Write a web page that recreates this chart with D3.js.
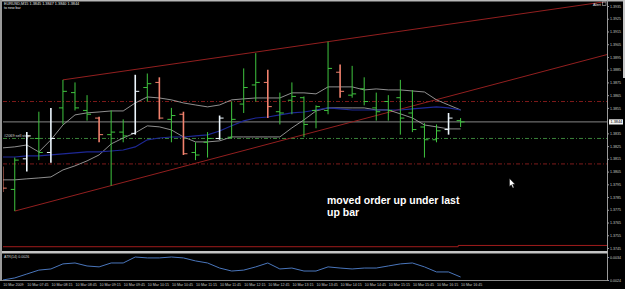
<!DOCTYPE html>
<html>
<head>
<meta charset="utf-8">
<script src="https://cdn.jsdelivr.net/npm/d3@7"></script>
<style>
  body { margin: 0; background: #000; overflow: hidden; }
  svg { display: block; font-family: 'Liberation Sans', Arial, sans-serif; }
</style>
</head>
<body>
<script>
const width = 625;
const height = 289;

// EURUSD M15 bars, 10 Mar 2009
const open  = [1.3806,1.3791,1.3815,1.3831,1.3820,1.3855,1.3867,1.3853,1.3847,1.3834,1.3836,1.3835,1.3871,1.3875,1.3846,1.3850,1.3820,1.3828,1.3831,1.3832,1.3858,1.3873,1.3875,1.3852,1.3861,1.3863,1.3853,1.3853,1.3883,1.3865,1.3870,1.3855,1.3860,1.3863,1.3851,1.3840,1.3830,1.3838,1.3845];
const high  = [1.3809,1.3816,1.3836,1.3852,1.3855,1.3877,1.3875,1.3865,1.3848,1.3853,1.3846,1.3881,1.3882,1.3879,1.3855,1.3852,1.3828,1.3836,1.3849,1.3860,1.3886,1.3898,1.3885,1.3867,1.3875,1.3864,1.3857,1.3907,1.3889,1.3888,1.3879,1.3867,1.3865,1.3877,1.3869,1.3843,1.3842,1.3851,1.3847];
const low   = [1.3789,1.3774,1.3805,1.3814,1.3812,1.3842,1.3853,1.3845,1.3828,1.3794,1.3828,1.3834,1.3860,1.3846,1.3828,1.3818,1.3814,1.3816,1.3830,1.3831,1.3851,1.3860,1.3847,1.3842,1.3850,1.3832,1.3839,1.3850,1.3863,1.3863,1.3857,1.3845,1.3845,1.3834,1.3836,1.3816,1.3828,1.3834,1.3840];
const close = [1.3792,1.3814,1.3833,1.3820,1.3831,1.3868,1.3855,1.3850,1.3834,1.3836,1.3833,1.3868,1.3874,1.3847,1.3849,1.3819,1.3818,1.3831,1.3847,1.3846,1.3871,1.3875,1.3856,1.3851,1.3864,1.3842,1.3856,1.3886,1.3868,1.3866,1.3860,1.3852,1.3853,1.3847,1.3838,1.3830,1.3837,1.3847,1.3844];
const kind  = ['dn','up','wh','up','wh','up','up','up','dn','up','up','wh','up','dn','up','dn','up','up','wh','up','up','up','dn','up','up','up','up','up','dn','up','up','up','up','up','up','up','up','wh','up'];

// indicator lines
const upperBand = [1.38236,1.38244,1.38259,1.38204,1.38299,1.38416,1.38495,1.38511,1.38518,1.38526,1.38526,1.38589,1.38636,1.38628,1.38613,1.38589,1.38573,1.38558,1.38573,1.38613,1.38621,1.38628,1.38628,1.38628,1.38668,1.38668,1.38660,1.38715,1.38715,1.38715,1.38691,1.38699,1.38691,1.38691,1.38683,1.38675,1.38613,1.38573,1.38534];
const lowerBand = [1.37985,1.37985,1.37993,1.38000,1.38008,1.38063,1.38095,1.38134,1.38181,1.38267,1.38314,1.38354,1.38409,1.38401,1.38377,1.38322,1.38283,1.38283,1.38291,1.38322,1.38322,1.38322,1.38322,1.38322,1.38393,1.38456,1.38526,1.38550,1.38550,1.38550,1.38550,1.38534,1.38534,1.38503,1.38471,1.38416,1.38401,1.38385,1.38385];
const maBlue    = [1.38165,1.38165,1.38173,1.38173,1.38181,1.38189,1.38197,1.38205,1.38205,1.38212,1.38220,1.38244,1.38299,1.38314,1.38322,1.38322,1.38330,1.38338,1.38369,1.38409,1.38448,1.38471,1.38479,1.38495,1.38511,1.38518,1.38534,1.38550,1.38542,1.38534,1.38534,1.38534,1.38534,1.38534,1.38542,1.38550,1.38558,1.38550,1.38534];
const atr       = [0.00240,0.00249,0.00266,0.00283,0.00288,0.00310,0.00314,0.00301,0.00297,0.00314,0.00314,0.00340,0.00336,0.00336,0.00340,0.00336,0.00323,0.00314,0.00292,0.00279,0.00283,0.00297,0.00314,0.00288,0.00292,0.00279,0.00279,0.00297,0.00292,0.00288,0.00292,0.00292,0.00301,0.00310,0.00314,0.00297,0.00275,0.00275,0.00253];

const timeLabels = ['10 Mar 2009','10 Mar 07:45','10 Mar 08:15','10 Mar 08:45','10 Mar 09:15','10 Mar 09:45','10 Mar 10:15','10 Mar 10:45','10 Mar 11:15','10 Mar 11:45','10 Mar 12:15','10 Mar 12:45','10 Mar 13:15','10 Mar 13:45','10 Mar 14:15','10 Mar 14:45','10 Mar 15:15','10 Mar 15:45','10 Mar 16:15','10 Mar 16:45'];
const timeTickBars = [0,2,4,6,8,10,12,14,16,18,20,22,24,26,28,30,32,34,36,38];
const priceTicks = [1.3935,1.3925,1.3915,1.3905,1.3895,1.3885,1.3875,1.3865,1.3855,1.3835,1.3825,1.3815,1.3805,1.3795,1.3785,1.3775,1.3765,1.3755,1.3745];
const atrTicks = [0.0034, 0.0024];

// objects on the chart
const bidPrice = 1.3844;
const orderLevels = [1.3860, 1.3811];
const sellStop = 1.3831;
const stopLine = [[0, 1.3746], [37.8, 1.3747]];
const upperTrend = [[5, 1.3877], [27, 1.3907]];
const lowerTrend = [[1, 1.3774], [9, 1.3794]];

const plot = {left: 3, right: 607, top: 2, bottom: 251};
const atrPane = {top: 254, bottom: 280};

const x = d3.scaleLinear().domain([0, 38]).range([2.7, 460.6]);
const y = d3.scaleLinear().domain([1.3745, 1.3935]).range([248, 6]);
const yAtr = d3.scaleLinear().domain([0.0024, 0.0034]).range([280, 257]);

const colors = {up: '#3fc43f', dn: '#f2826e', wh: '#eef8ff'};

const svg = d3.select('body').append('svg')
  .attr('width', width)
  .attr('height', height);

svg.append('rect').attr('width', width).attr('height', height).attr('fill', '#000');

const defs = svg.append('defs');
defs.append('clipPath').attr('id', 'mainClip').append('rect')
  .attr('x', plot.left).attr('y', plot.top)
  .attr('width', plot.right - plot.left).attr('height', plot.bottom - plot.top);
defs.append('clipPath').attr('id', 'atrClip').append('rect')
  .attr('x', plot.left).attr('y', atrPane.top)
  .attr('width', plot.right - plot.left).attr('height', atrPane.bottom - atrPane.top);

// window frame
svg.append('rect').attr('x', 0).attr('y', 0).attr('width', width).attr('height', 1.5).attr('fill', '#b8b8b8');
svg.append('rect').attr('x', 0).attr('y', 0).attr('width', 2).attr('height', 281).attr('fill', '#9a9a9a');
svg.append('rect').attr('x', 623).attr('y', 0).attr('width', 2).attr('height', 78).attr('fill', '#c8c8c8');
svg.append('line')
  .attr('x1', plot.right + 0.5).attr('x2', plot.right + 0.5)
  .attr('y1', 0).attr('y2', atrPane.bottom + 0.5)
  .attr('stroke', '#9a9a9a').attr('stroke-width', 1);
svg.append('rect')
  .attr('x', 2).attr('y', plot.bottom).attr('width', plot.right - 1.5).attr('height', 2.5)
  .attr('fill', '#c4c4c4');
svg.append('line')
  .attr('x1', 2).attr('x2', plot.right + 0.5)
  .attr('y1', atrPane.bottom + 0.5).attr('y2', atrPane.bottom + 0.5)
  .attr('stroke', '#8a8a8a').attr('stroke-width', 1);

const main = svg.append('g').attr('clip-path', 'url(#mainClip)');

// horizontal levels
main.append('line')
  .attr('x1', plot.left).attr('x2', plot.right)
  .attr('y1', y(bidPrice)).attr('y2', y(bidPrice))
  .attr('stroke', '#a8a8a8').attr('stroke-width', 0.8);

main.selectAll('.order')
  .data(orderLevels)
  .enter()
  .append('line')
  .attr('class', 'order')
  .attr('x1', plot.left).attr('x2', plot.right)
  .attr('y1', d => y(d)).attr('y2', d => y(d))
  .attr('stroke', '#7e1a1a').attr('stroke-width', 1)
  .attr('stroke-dasharray', '4,2,1,2');

main.append('line')
  .attr('x1', plot.left).attr('x2', plot.right)
  .attr('y1', y(sellStop)).attr('y2', y(sellStop))
  .attr('stroke', '#3a823a').attr('stroke-width', 1)
  .attr('stroke-dasharray', '4,2,1,2');

main.append('text')
  .text('#2069 sell stop')
  .attr('x', 4).attr('y', y(sellStop) - 1.2)
  .attr('fill', '#d8d8d8')
  .style('font-size', '3.8px');

// stop line at the bottom, steps up near the last bar
main.append('path')
  .attr('d', d3.line().curve(d3.curveStepAfter)
    .x(d => d[0] === 0 ? plot.left : x(d[0]))
    .y(d => y(d[1]))(stopLine.concat([[x.invert(plot.right), stopLine[1][1]]])))
  .attr('fill', 'none')
  .attr('stroke', '#a01c1c').attr('stroke-width', 1);

// trend channel
function trendEnd(pts) {
  const slope = (pts[1][1] - pts[0][1]) / (pts[1][0] - pts[0][0]);
  const iEnd = x.invert(plot.right + 2);
  return [[pts[0][0], pts[0][1]], [iEnd, pts[0][1] + slope * (iEnd - pts[0][0])]];
}
[upperTrend, lowerTrend].forEach(pts => {
  const seg = trendEnd(pts);
  main.append('line')
    .attr('x1', x(seg[0][0])).attr('y1', y(seg[0][1]))
    .attr('x2', x(seg[1][0])).attr('y2', y(seg[1][1]))
    .attr('stroke', '#921f1f').attr('stroke-width', 1);
});

// bands and moving average
const bandLine = d3.line().x((d, i) => x(i)).y(d => y(d));
[upperBand, lowerBand].forEach(band => {
  main.append('path')
    .attr('d', bandLine(band))
    .attr('fill', 'none')
    .attr('stroke', '#b4b4b4').attr('stroke-width', 0.8);
});
main.append('path')
  .attr('d', bandLine(maBlue))
  .attr('fill', 'none')
  .attr('stroke', '#1e2896').attr('stroke-width', 1.1);

// OHLC bars
const barGroups = main.selectAll('.bar')
  .data(open.map((o, i) => ({i: i, o: o, h: high[i], l: low[i], c: close[i], k: kind[i]})))
  .enter()
  .append('g')
  .attr('class', 'bar');

barGroups.append('line')
  .attr('x1', d => x(d.i)).attr('x2', d => x(d.i))
  .attr('y1', d => y(d.h)).attr('y2', d => y(d.l))
  .attr('stroke', d => colors[d.k])
  .attr('stroke-width', d => d.k === 'up' ? 1 : 1.6);
barGroups.append('line')
  .attr('x1', d => x(d.i) - 4).attr('x2', d => x(d.i))
  .attr('y1', d => y(d.o)).attr('y2', d => y(d.o))
  .attr('stroke', d => colors[d.k]).attr('stroke-width', 1);
barGroups.append('line')
  .attr('x1', d => x(d.i)).attr('x2', d => x(d.i) + 4)
  .attr('y1', d => y(d.c)).attr('y2', d => y(d.c))
  .attr('stroke', d => colors[d.k]).attr('stroke-width', 1);

// price axis
const priceAxis = svg.append('g')
  .attr('transform', `translate(${plot.right}, 0)`)
  .call(d3.axisRight(y).tickValues(priceTicks).tickSize(2).tickFormat(d => d.toFixed(4)));
priceAxis.select('.domain').remove();
priceAxis.selectAll('line').attr('stroke', '#9a9a9a');
priceAxis.selectAll('text')
  .attr('x', 3)
  .attr('fill', '#c8c8c8')
  .style('font-size', '3.6px');

const bidLabel = svg.append('g').attr('transform', `translate(${plot.right + 2}, ${y(bidPrice)})`);
bidLabel.append('rect').attr('x', 0).attr('y', -2.6).attr('width', 14).attr('height', 5.2).attr('fill', '#f4f4f4');
bidLabel.append('text').text(bidPrice.toFixed(4))
  .attr('x', 1.5).attr('y', 1.3)
  .attr('fill', '#000')
  .style('font-size', '3.8px');

// ATR pane
const atrG = svg.append('g').attr('clip-path', 'url(#atrClip)');
atrG.append('path')
  .attr('d', d3.line().x((d, i) => x(i)).y(d => yAtr(d))(atr))
  .attr('fill', 'none')
  .attr('stroke', '#4a76bc').attr('stroke-width', 1);

svg.append('text')
  .text('ATR(14) 0.0026')
  .attr('x', 4).attr('y', atrPane.top + 4)
  .attr('fill', '#d8d8d8')
  .style('font-size', '3.6px');

const atrAxis = svg.append('g')
  .attr('transform', `translate(${plot.right}, 0)`)
  .call(d3.axisRight(yAtr).tickValues(atrTicks).tickSize(2).tickFormat(d => d.toFixed(4)));
atrAxis.select('.domain').remove();
atrAxis.selectAll('line').attr('stroke', '#9a9a9a');
atrAxis.selectAll('text')
  .attr('x', 3)
  .attr('fill', '#c8c8c8')
  .style('font-size', '3.6px');

// time axis
const timeAxis = svg.append('g')
  .attr('transform', `translate(0, ${atrPane.bottom + 1})`)
  .call(d3.axisBottom(x).tickValues(timeTickBars).tickSize(0)
    .tickFormat((d, i) => timeLabels[i]));
timeAxis.select('.domain').remove();
timeAxis.selectAll('text')
  .attr('y', 4.5)
  .attr('dy', 0)
  .attr('text-anchor', 'start')
  .attr('fill', '#c8c8c8')
  .style('font-size', '3.6px');

// header
svg.append('text')
  .text('EURUSD,M15  1.3845 1.3847 1.3840 1.3844')
  .attr('x', 4).attr('y', 5)
  .attr('fill', '#e8e8e8')
  .style('font-size', '3.8px');
svg.append('text')
  .text('to new bar')
  .attr('x', 4).attr('y', 9)
  .attr('fill', '#e8e8e8')
  .style('font-size', '3.6px');
svg.append('text')
  .text('Alert')
  .attr('x', 593).attr('y', 5.5)
  .attr('fill', '#e8e8e8')
  .style('font-size', '3.8px');
svg.append('rect')
  .attr('x', 602.5).attr('y', 2).attr('width', 3.5).attr('height', 3.5)
  .attr('fill', 'none').attr('stroke', '#e8e8e8').attr('stroke-width', 0.5);

// annotation
svg.append('text')
  .text('moved order up under last')
  .attr('x', 327).attr('y', 204)
  .attr('fill', '#fff')
  .style('font-size', '10.5px')
  .style('font-weight', 'bold');
svg.append('text')
  .text('up bar')
  .attr('x', 327).attr('y', 216)
  .attr('fill', '#fff')
  .style('font-size', '10.5px')
  .style('font-weight', 'bold');

// mouse pointer left in the screenshot
svg.append('path')
  .attr('d', 'M509.5,178.5 L509.5,186.5 L511.3,184.8 L512.8,188 L514,187.4 L512.6,184.3 L515,184.3 Z')
  .attr('fill', '#fff')
  .attr('stroke', '#000')
  .attr('stroke-width', 0.4);
</script>
</body>
</html>
